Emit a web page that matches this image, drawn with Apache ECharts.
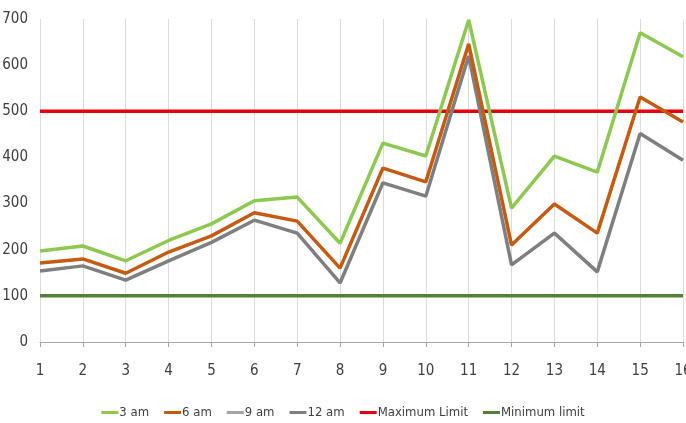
<!DOCTYPE html>
<html>
<head>
<meta charset="utf-8">
<script src="https://cdn.jsdelivr.net/npm/echarts@6/dist/echarts.min.js"></script>
<style>
  html, body { margin: 0; padding: 0; background: #fff; }
  #chart { width: 686px; height: 423px; }
</style>
</head>
<body>
<div id="chart"></div>
<script>
// Readings per day at four times, with upper and lower limits
const days = ['1','2','3','4','5','6','7','8','9','10','11','12','13','14','15','16'];
const am3  = [197, 208, 176, 220, 256, 306, 314, 214, 431, 403, 698, 290, 403, 368, 670, 618];
const am6  = [171, 180, 149, 195, 230, 280, 262, 160, 377, 347, 646, 210, 299, 236, 531, 477];
const am9  = [];
const am12 = [154, 165, 134, 176, 216, 264, 236, 128, 345, 316, 620, 167, 236, 152, 452, 394];
const maxLimit = 500;
const minLimit = 100;
const yTicks = { min: 0, max: 700, interval: 100 };

const font = '"DejaVu Sans Condensed", "Liberation Sans Narrow", sans-serif';
const chart = echarts.init(document.getElementById('chart'));

function lineSeries(name, data, color, width, z) {
  return {
    name, type: 'line', data, symbol: 'none', z: z,
    lineStyle: { color, width }, itemStyle: { color },
    emphasis: { disabled: true }, animation: false
  };
}

chart.setOption({
  animation: false,
  grid: { left: 40, right: 3, top: 19, bottom: 81, outerBoundsMode: 'none', containLabel: false },
  legend: {
    bottom: -1, left: 'center',
    icon: 'rect', itemWidth: 17, itemHeight: 3, itemGap: 15,
    textStyle: { fontFamily: font, fontSize: 13, color: '#404040', padding: [0, 0, 0, -4] },
    data: ['3 am', '6 am', '9 am', '12 am', 'Maximum Limit', 'Minimum limit']
  },
  xAxis: {
    type: 'category', data: days, boundaryGap: false,
    axisLine: { lineStyle: { color: '#a6a6a6', width: 1 } },
    axisTick: { show: true, alignWithLabel: true, length: 5, lineStyle: { color: '#a6a6a6' } },
    axisLabel: { fontFamily: font, fontSize: 15, color: '#404040', margin: 22, hideOverlap: false },
    splitLine: { show: true, lineStyle: { color: '#dcdcdc', width: 1 } }
  },
  yAxis: {
    type: 'value', min: yTicks.min, max: yTicks.max, interval: yTicks.interval,
    axisLine: { show: false }, axisTick: { show: false },
    axisLabel: { fontFamily: font, fontSize: 15, color: '#404040', margin: 12 },
    splitLine: { show: false }
  },
  series: [
    lineSeries('Minimum limit', days.map(() => minLimit), '#548235', 3.5, 2),
    lineSeries('Maximum Limit', days.map(() => maxLimit), '#e3000f', 3.5, 2),
    lineSeries('9 am', am9, '#a5a5a5', 2, 3),
    lineSeries('12 am', am12, '#7f7f7f', 3.5, 4),
    lineSeries('6 am', am6, '#c55a11', 3.5, 5),
    lineSeries('3 am', am3, '#8dc850', 3.5, 6)
  ]
});
</script>
</body>
</html>
